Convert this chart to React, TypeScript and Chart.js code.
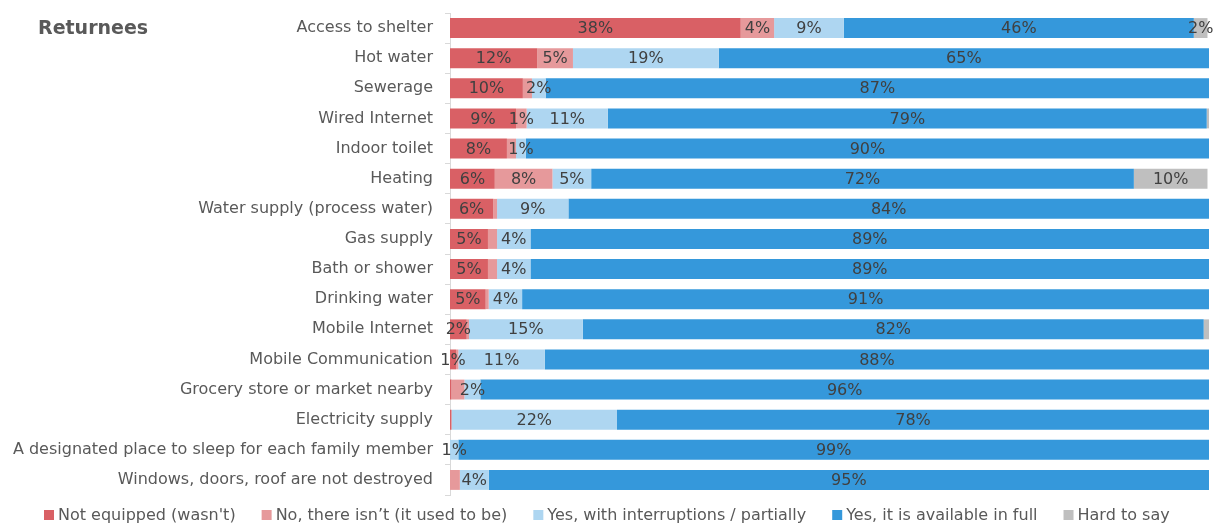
import React, { useEffect, useRef } from "react";
import { Chart, registerables } from "chart.js";

Chart.register(...registerables);

const categories = [
  "Access to shelter",
  "Hot water",
  "Sewerage",
  "Wired Internet",
  "Indoor toilet",
  "Heating",
  "Water supply (process water)",
  "Gas supply",
  "Bath or shower",
  "Drinking water",
  "Mobile Internet",
  "Mobile Communication",
  "Grocery store or market nearby",
  "Electricity supply",
  "A designated place to sleep for each family member",
  "Windows, doors, roof are not destroyed",
];

const seriesNames = [
  "Not equipped (wasn't)",
  "No, there isn’t (it used to be)",
  "Yes, with interruptions / partially",
  "Yes, it is available in full",
  "Hard to say",
];

const notEquipped = [38.3, 11.5, 9.6, 8.7, 7.5, 5.9, 5.7, 5.0, 5.0, 4.7, 2.2, 0.8, 0.2, 0.2, 0, 0];
const noThereIsnt = [4.4, 4.7, 1.2, 1.4, 1.2, 7.6, 0.5, 1.2, 1.2, 0.4, 0.3, 0.3, 1.7, 0, 0, 1.3];
const partially = [9.2, 19.2, 1.8, 10.7, 1.3, 5.1, 9.4, 4.4, 4.4, 4.4, 15.0, 11.4, 2.1, 21.8, 1.1, 3.8];
const inFull = [46.1, 64.6, 87.4, 78.9, 90.0, 71.5, 84.4, 89.4, 89.4, 90.5, 81.8, 87.5, 96.0, 78.0, 98.9, 94.9];
const hardToSay = [1.8, 0, 0, 0.3, 0, 9.7, 0, 0, 0, 0, 0.7, 0, 0, 0, 0, 0];

const seriesColors = ["#D96065", "#E6999B", "#AED6F1", "#3598DB", "#BFBFBF"];

// labels not shown in the reference: [seriesIndex, categoryIndex]
const hiddenLabels: [number, number][] = [
  [1, 2], [1, 4], [1, 6], [1, 7], [1, 8], [1, 9], [1, 10], [1, 11], [1, 12], [1, 15],
  [0, 12], [0, 13],
  [4, 3], [4, 10],
];

const FONT = "'DejaVu Sans', Verdana, sans-serif";

const labelPlugin = {
  id: "segLabels",
  afterDatasetsDraw(chart: any) {
    const ctx = chart.ctx;
    ctx.save();
    ctx.font = `16px ${FONT}`;
    ctx.fillStyle = "#404040";
    ctx.textAlign = "center";
    ctx.textBaseline = "middle";
    chart.data.datasets.forEach((ds: any, i: number) => {
      const meta = chart.getDatasetMeta(i);
      meta.data.forEach((el: any, j: number) => {
        const v = ds.data[j];
        if (!v || Math.round(v) < 1) return;
        if (hiddenLabels.some(([s, c]) => s === i && c === j)) return;
        const x = (el.x + el.base) / 2;
        ctx.fillText(Math.round(v) + "%", x, el.y + 1);
      });
    });
    ctx.restore();
  },
};

const titleAndLegendPlugin = {
  id: "sideTitleLegend",
  afterDraw(chart: any) {
    const ctx = chart.ctx;
    ctx.save();
    ctx.font = `bold 19px ${FONT}`;
    ctx.fillStyle = "#595959";
    ctx.textAlign = "left";
    ctx.textBaseline = "middle";
    ctx.fillText("Returnees", 38, 29);

    // legend row
    ctx.font = `16px ${FONT}`;
    const y = 515;
    let x = 44;
    chart.data.datasets.forEach((ds: any) => {
      ctx.fillStyle = ds.backgroundColor;
      ctx.fillRect(x, y - 5, 10, 10);
      ctx.fillStyle = "#595959";
      ctx.fillText(ds.label, x + 14, y + 1);
      x += 14 + ctx.measureText(ds.label).width + 26;
    });
    ctx.restore();
  },
};

export default function App() {
  const ref = useRef<HTMLCanvasElement>(null);
  useEffect(() => {
    document.body.style.margin = "0";
    const values = [notEquipped, noThereIsnt, partially, inFull, hardToSay];
    const chart = new Chart(ref.current as HTMLCanvasElement, {
      type: "bar",
      data: {
        labels: categories,
        datasets: values.map((d, i) => ({
          label: seriesNames[i],
          data: d,
          backgroundColor: seriesColors[i],
          borderWidth: 0,
          barPercentage: 0.66,
          categoryPercentage: 1,
        })),
      },
      options: {
        indexAxis: "y",
        responsive: false,
        animation: false,
        layout: { padding: { top: 13, right: 8, left: 0, bottom: 30 } },
        scales: {
          x: { stacked: true, min: 0, max: 100, display: false },
          y: {
            stacked: true,
            afterFit(scale: any) {
              scale.width = 450;
              scale.paddingTop = 0;
              scale.paddingBottom = 0;
            },
            grid: {
              drawOnChartArea: false,
              drawTicks: true,
              tickLength: 5,
              color: "#D9D9D9",
            },
            border: { display: true, color: "#D9D9D9" },
            ticks: {
              color: "#595959",
              padding: 12,
              autoSkip: false,
              font: { family: FONT, size: 16 },
            },
          },
        },
        plugins: {
          legend: { display: false },
          tooltip: { enabled: false },
        },
      },
      plugins: [labelPlugin, titleAndLegendPlugin],
    } as any);
    return () => chart.destroy();
  }, []);
  return <canvas ref={ref} width={1217} height={525} style={{ display: "block" }} />;
}
